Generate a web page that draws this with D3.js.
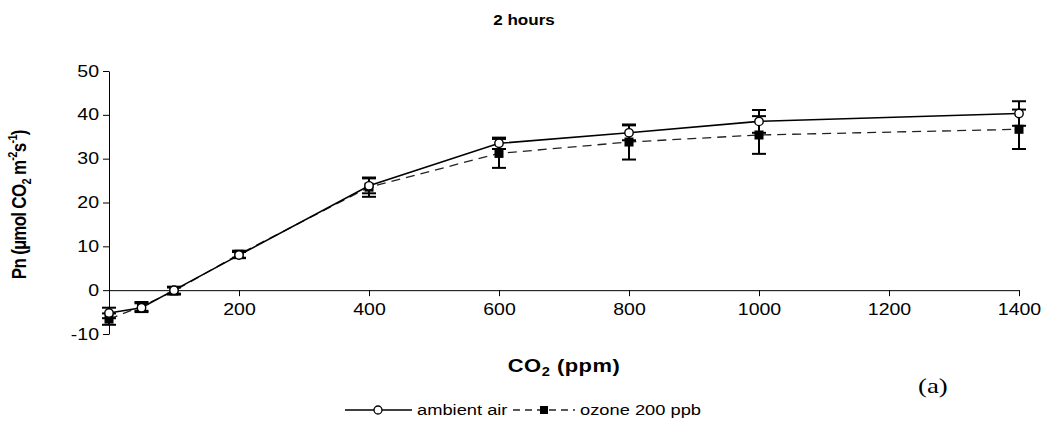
<!DOCTYPE html>
<html>
<head>
<meta charset="utf-8">
<script src="https://cdn.jsdelivr.net/npm/d3@7"></script>
<style>
  html, body { margin: 0; padding: 0; background: #fff; }
  svg { display: block; }
  text { font-family: "Liberation Sans", Arial, sans-serif; fill: #000; }
</style>
</head>
<body>
<svg id="chart" width="1049" height="421"></svg>
<script>
// CO2 concentrations (ppm) and net photosynthesis Pn after 2 hours
const co2 = [0, 50, 100, 200, 400, 600, 800, 1000, 1400];
const ambient = [-5.2, -4.0, 0.0, 8.0, 23.8, 33.5, 35.9, 38.5, 40.3];
const ambientErr = [1.2, 1.0, 0.8, 0.7, 1.7, 1.3, 1.7, 2.6, 2.8];
const ozone = [-6.6, -3.7, -0.2, 8.2, 23.5, 31.2, 33.8, 35.4, 36.7];
const ozoneErr = [1.3, 1.0, 0.8, 0.8, 2.2, 3.3, 4.0, 4.3, 4.5];
const xTicks = [200, 400, 600, 800, 1000, 1200, 1400];
const yTicks = [-10, 0, 10, 20, 30, 40, 50];
const seriesNames = ["ambient air", "ozone 200 ppb"];

// text is drawn slightly wide, as in the printed figure
const WIDE = 1.22;

const svg = d3.select("#chart");

const x = d3.scaleLinear().domain([0, 1400]).range([109, 1019]);
const y = d3.scaleLinear().domain([-10, 50]).range([334, 71]);
const plain = d => String(d).replace("\u2212", "-");

// helper: text placed at (tx, ty), widened horizontally
function wideText(tx, ty, size) {
  return svg.append("text")
    .attr("transform", `translate(${tx},${ty}) scale(${WIDE},1)`)
    .style("font-size", size + "px");
}

// title
wideText(524, 25, 14)
  .attr("text-anchor", "middle")
  .style("font-weight", "bold")
  .text("2 hours");

// y axis
const yAxis = svg.append("g")
  .attr("transform", `translate(${x(0)},0)`)
  .call(d3.axisLeft(y).tickValues(yTicks).tickFormat(plain).tickSize(6).tickSizeOuter(0).tickPadding(4));
yAxis.selectAll("text")
  .style("font-size", "16px").style("font-family", "Liberation Sans, Arial, sans-serif")
  .attr("transform", `scale(${WIDE},1)`)
  .attr("x", -10 / WIDE);
yAxis.selectAll("line, path").attr("stroke", "#000").attr("stroke-width", 1);

// x axis along the zero line
const xAxis = svg.append("g")
  .attr("transform", `translate(0,${y(0)})`)
  .call(d3.axisBottom(x).tickValues(xTicks).tickFormat(plain).tickSize(6).tickSizeOuter(0).tickPadding(7));
xAxis.selectAll("text")
  .style("font-size", "16px").style("font-family", "Liberation Sans, Arial, sans-serif")
  .attr("transform", `scale(${WIDE},1)`);
xAxis.selectAll("line, path").attr("stroke", "#000").attr("stroke-width", 1);

// axis titles
const yTitle = svg.append("text")
  .attr("transform", `translate(26,${y(19.5)}) rotate(-90) scale(1,${WIDE})`)
  .attr("text-anchor", "middle")
  .style("font-weight", "bold").style("font-size", "17px").style("letter-spacing", "-0.7px");
yTitle.append("tspan").text("Pn (µmol CO");
yTitle.append("tspan").attr("dy", 4).style("font-size", "11px").text("2");
yTitle.append("tspan").attr("dy", -4).text(" m");
yTitle.append("tspan").attr("dy", -7).style("font-size", "11px").text("-2");
yTitle.append("tspan").attr("dy", 7).text("s");
yTitle.append("tspan").attr("dy", -7).style("font-size", "11px").text("-1");
yTitle.append("tspan").attr("dy", 7).text(")");

const xTitle = wideText(564, 372, 18)
  .attr("text-anchor", "middle")
  .style("font-weight", "bold").style("letter-spacing", "0.4px");
xTitle.append("tspan").text("CO");
xTitle.append("tspan").attr("dy", 4).style("font-size", "12px").text("2");
xTitle.append("tspan").attr("dy", -4).text(" (ppm)");

// series lines
const pts = vals => co2.map((c, i) => [c, vals[i]]);
const line = d3.line().x(d => x(d[0])).y(d => y(d[1]));

svg.append("path").datum(pts(ozone))
  .attr("d", line).attr("fill", "none")
  .attr("stroke", "#222").attr("stroke-width", 1.3).attr("stroke-dasharray", "9,6");
svg.append("path").datum(pts(ambient))
  .attr("d", line).attr("fill", "none")
  .attr("stroke", "#000").attr("stroke-width", 1.6);

// error bars
function errorBars(vals, errs) {
  const g = svg.append("g").attr("stroke", "#000").attr("stroke-width", 2);
  co2.forEach((c, i) => {
    const cx = x(c), lo = y(vals[i] - errs[i]), hi = y(vals[i] + errs[i]);
    g.append("line").attr("x1", cx).attr("x2", cx).attr("y1", lo).attr("y2", hi);
    g.append("line").attr("x1", cx - 7).attr("x2", cx + 7).attr("y1", lo).attr("y2", lo);
    g.append("line").attr("x1", cx - 7).attr("x2", cx + 7).attr("y1", hi).attr("y2", hi);
  });
}
errorBars(ozone, ozoneErr);
errorBars(ambient, ambientErr);

// markers
svg.append("g").selectAll("rect").data(pts(ozone)).join("rect")
  .attr("x", d => x(d[0]) - 4.5).attr("y", d => y(d[1]) - 4.5)
  .attr("width", 9).attr("height", 9).attr("fill", "#000");
svg.append("g").selectAll("circle").data(pts(ambient)).join("circle")
  .attr("cx", d => x(d[0])).attr("cy", d => y(d[1])).attr("r", 4.2)
  .attr("fill", "#fff").attr("stroke", "#000").attr("stroke-width", 1.4);

// legend
const ly = 410;
const leg = svg.append("g");
leg.append("line").attr("x1", 345).attr("x2", 412).attr("y1", ly).attr("y2", ly)
  .attr("stroke", "#000").attr("stroke-width", 1.3);
leg.append("circle").attr("cx", 378).attr("cy", ly).attr("r", 4)
  .attr("fill", "#fff").attr("stroke", "#000").attr("stroke-width", 1.3);
wideText(417, ly + 5, 15).text(seriesNames[0]);
leg.append("line").attr("x1", 513).attr("x2", 575).attr("y1", ly).attr("y2", ly)
  .attr("stroke", "#222").attr("stroke-width", 1.3).attr("stroke-dasharray", "7,5");
leg.append("rect").attr("x", 540).attr("y", ly - 4).attr("width", 8).attr("height", 8).attr("fill", "#000");
wideText(580, ly + 5, 15).text(seriesNames[1]);

// panel letter
svg.append("text")
  .attr("transform", `translate(918,393) scale(${WIDE},1)`)
  .style("font-family", "Liberation Serif, 'Times New Roman', serif").style("font-size", "22px")
  .text("(a)");
</script>
</body>
</html>
